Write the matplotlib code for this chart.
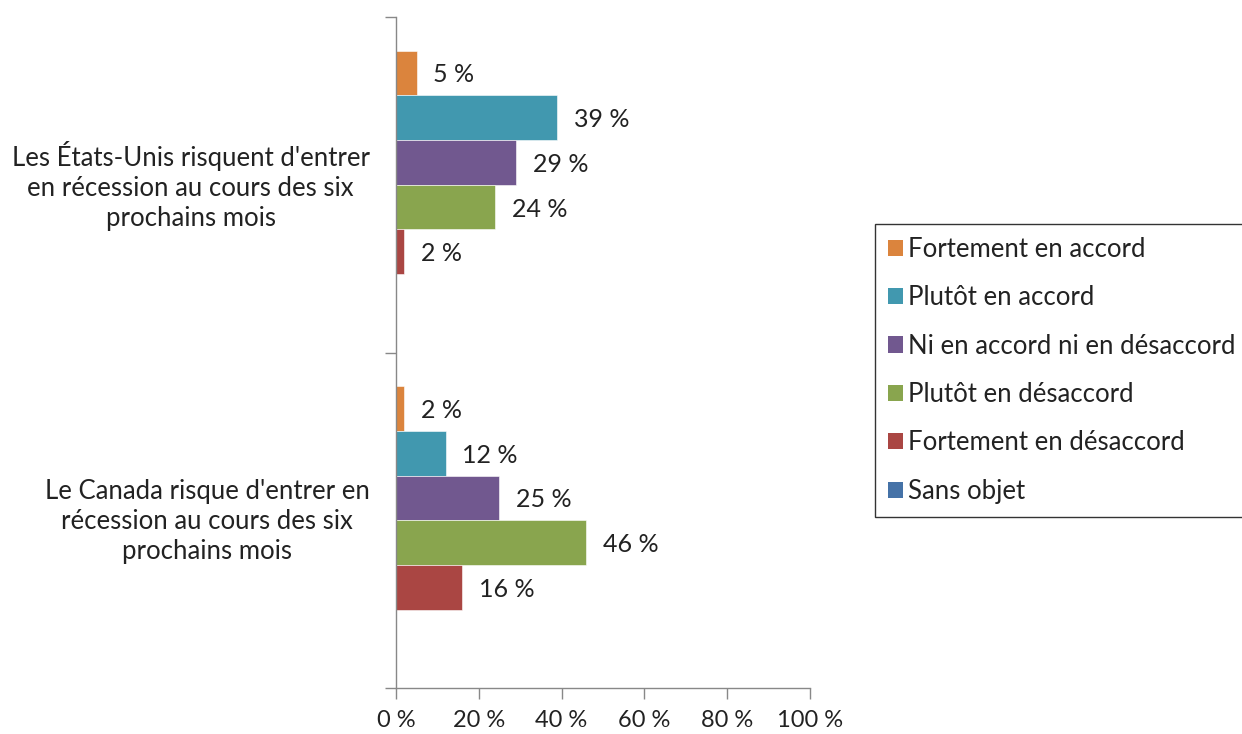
import numpy as np
import matplotlib.pyplot as plt
import matplotlib.transforms as mtransforms
from matplotlib.patches import Patch

plt.rcParams['font.family'] = ['Lato', 'DejaVu Sans']

categories = ["Les États-Unis risquent d'entrer\nen récession au cours des six\nprochains mois",
              "Le Canada risque d'entrer en\nrécession au cours des six\nprochains mois"]
series = ["Fortement en accord", "Plutôt en accord", "Ni en accord ni en désaccord",
          "Plutôt en désaccord", "Fortement en désaccord", "Sans objet"]
colors = ["#DB843D", "#4198AF", "#71588F", "#89A54E", "#AA4643", "#4572A7"]
values = [[5, 2],
          [39, 12],
          [29, 25],
          [24, 46],
          [2, 16],
          [0, 0]]
xticks = [0, 20, 40, 60, 80, 100]

fig = plt.figure(figsize=(12.42, 7.34), dpi=100)
ax = fig.add_axes([396/1242, 1 - 688/734, (810-396)/1242, (688-17)/734])

n = len(series)
h = 0.8 / n
y = np.arange(len(categories))
for i, (name, col, vals) in enumerate(zip(series, colors, values)):
    pos = y - 0.4 + h * (i + 0.5)
    ax.barh(pos, vals, height=h, color=col, edgecolor='white', linewidth=0.4, label=name)
    if i < 5:
        for p, v in zip(pos, vals):
            ax.annotate(f"{v} %", (v, p), xytext=(12, -1.5), textcoords='offset points',
                        va='center', ha='left', fontsize=18, color='#222222')

ax.set_xlim(0, 100)
ax.set_ylim(1.5, -0.5)
ax.set_xticks(xticks)
ax.set_xticklabels([f"{t} %" for t in xticks], fontsize=17, color='#222222')
ax.set_yticks(y)
ax.set_yticklabels(categories, fontsize=18.5, multialignment='center', color='#222222',
                   linespacing=1.25)
ax.set_yticks([-0.5, 0.5, 1.5], minor=True)
ax.tick_params(axis='y', which='major', length=0, pad=19)
ax.tick_params(axis='y', which='minor', length=8, color='#888888', width=1)
ax.tick_params(axis='x', length=8, color='#888888', width=1, direction='out', pad=8)
shift = mtransforms.ScaledTranslation(0, 4/100, fig.dpi_scale_trans)
for lab in ax.get_yticklabels():
    lab.set_transform(lab.get_transform() + shift)

for s in ['top', 'right']:
    ax.spines[s].set_visible(False)
for s in ['left', 'bottom']:
    ax.spines[s].set_color('#888888')
    ax.spines[s].set_linewidth(1)

handles = [Patch(facecolor=c, edgecolor='none') for c in colors]
leg = fig.legend(handles, series, loc='upper left', bbox_to_anchor=(875/1242, 1 - 224/734),
                 fontsize=18.5, frameon=True, fancybox=False, edgecolor='black',
                 handlelength=0.6, handleheight=0.6, handletextpad=0.2,
                 labelspacing=0.91, borderpad=0.5, borderaxespad=0)
leg.get_frame().set_linewidth(1)
for t in leg.get_texts():
    t.set_color('#222222')

fig.savefig('out.png', dpi=100)
